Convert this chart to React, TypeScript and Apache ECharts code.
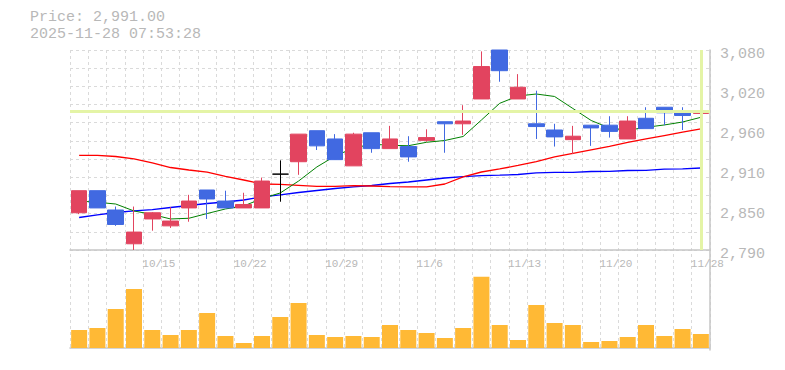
import React, { useEffect, useRef } from "react";
import * as echarts from "echarts";

const dates = [
  "10/8", "10/9", "10/10", "10/14", "10/15", "10/16", "10/17", "10/20", "10/21", "10/22",
  "10/23", "10/24", "10/27", "10/28", "10/29", "10/30", "10/31", "11/4", "11/5", "11/6",
  "11/7", "11/10", "11/11", "11/12", "11/13", "11/14", "11/17", "11/18", "11/19", "11/20",
  "11/21", "11/25", "11/26", "11/27", "11/28",
];
const opens = [
  2844, 2876, 2848, 2799, 2835, 2825, 2851, 2877, 2861, 2851,
  2851, 2900, 2918, 2963, 2951, 2912, 2960, 2937, 2940, 2949,
  2976, 2973, 3009, 3080, 3009, 2973, 2964, 2950, 2971, 2971,
  2951, 2981, 2997, 2990, 2988,
];
const closes = [
  2876, 2851, 2827, 2816, 2844, 2832, 2861, 2864, 2851, 2856,
  2890, 2900, 2958, 2941, 2921, 2958, 2937, 2951, 2925, 2953,
  2973, 2977, 3056, 3050, 3026, 2969, 2954, 2955, 2967, 2962,
  2977, 2966, 2989, 2985, 2991,
];
const lows = [
  2842, 2851, 2825, 2790, 2818, 2822, 2831, 2835, 2851, 2851,
  2851, 2860, 2899, 2935, 2921, 2912, 2931, 2937, 2918, 2947,
  2931, 2957, 3009, 3034, 3009, 2951, 2940, 2929, 2941, 2953,
  2951, 2966, 2971, 2964, 2980,
];
const highs = [
  2876, 2876, 2853, 2853, 2845, 2852, 2870, 2877, 2876, 2873,
  2895, 2920, 2958, 2963, 2958, 2960, 2960, 2970, 2955, 2965,
  2976, 3000, 3078, 3080, 3045, 3021, 2973, 2970, 2971, 2984,
  2984, 2997, 2997, 2997, 2992,
];
const ma5 = [
  2861, 2859.2, 2856.7, 2846.6, 2841.5, 2835, 2836, 2842.9, 2849.5, 2853.8,
  2864.7, 2872.7, 2890, 2910.4, 2926.3, 2937.9, 2943.4, 2941.8, 2941.2, 2946.2,
  2948.8, 2954.6, 2978.5, 3002.7, 3013.3, 3016.2, 3012.6, 2995.2, 2977.8, 2966.9,
  2963.6, 2967.9, 2971.3, 2975.6, 2982.4,
];
const ma25 = [
  2927.3, 2927.3, 2925.6, 2922.2, 2916.4, 2909.6, 2906, 2902.8, 2896.7, 2891.5,
  2885.7, 2885.2, 2883.8, 2882.4, 2882.4, 2883.2, 2882.8, 2882, 2881.4, 2881.4,
  2885.7, 2895.9, 2903.1, 2907.5, 2912.6, 2918.3, 2924.9, 2930.2, 2935.3, 2940.4,
  2945.9, 2951, 2956, 2960.8, 2965.5,
];
const ma75 = [
  2837.1, 2840.8, 2844.4, 2846.6, 2848.4, 2851.6, 2854.5, 2857.4, 2859.6, 2862.5,
  2866.9, 2869.8, 2873.4, 2876.3, 2879.2, 2881.4, 2883.5, 2886.4, 2888.6, 2891.5,
  2894.4, 2896.3, 2897.7, 2898.5, 2899.5, 2901.7, 2902.7, 2902.7, 2903.8, 2904.1,
  2905.3, 2905.6, 2907.2, 2907.5, 2908.9,
];
const volumes = [
  180, 200, 390, 590, 180, 130, 180, 350, 120, 50,
  120, 310, 450, 130, 110, 120, 110, 230, 180, 150,
  100, 200, 713, 230, 80, 430, 250, 230, 60, 70,
  110, 230, 120, 190, 140,
];
const yTickLabels = ["2,790", "2,850", "2,910", "2,960", "3,020", "3,080"];
const xLabelIdx = [4, 9, 14, 19, 24, 29, 34];
const priceText = "Price: 2,991.00";
const timeText = "2025-11-28 07:53:28";
const lastPrice = 2991;
const dojiIndex = 11;

export default function App() {
  const ref = useRef<HTMLDivElement>(null);
  useEffect(() => {
    const chart = echarts.init(ref.current!, null, { renderer: "svg" });
    const font = "'Liberation Mono', 'DejaVu Sans Mono', monospace";
    const gridColor = "#dadada";
    const axisGray = "#c6c6c6";
    const textGray = "#b8b8b8";
    const up = "#e2445f";
    const down = "#4169e1";
    const candleData = dates.map((_, i) => {
      const v = [opens[i], closes[i], lows[i], highs[i]];
      if (i === dojiIndex) {
        return {
          value: v,
          itemStyle: { color: "#000", color0: "#000", borderColor: "#000", borderColor0: "#000" },
        };
      }
      return v;
    });
    chart.setOption({
      animation: false,
      backgroundColor: "#ffffff",
      graphic: [
        { type: "text", left: 30, top: 10, style: { text: priceText, font: `15px ${font}`, fill: textGray } },
        { type: "text", left: 30, top: 27, style: { text: timeText, font: `15px ${font}`, fill: textGray } },
      ],
      grid: [
        { left: 70, top: 50, width: 640, height: 200 },
        { left: 70, top: 270, width: 640, height: 78 },
        { left: 70, top: 50, width: 640, height: 300 },
      ],
      xAxis: [
        {
          type: "category", gridIndex: 0, data: dates, boundaryGap: true,
          axisLine: { show: true, lineStyle: { color: axisGray, width: 1.5 } },
          axisTick: { show: false }, splitLine: { show: false },
          axisLabel: {
            interval: (i: number) => xLabelIdx.includes(i),
            align: "left", padding: [0, 0, 0, -10], margin: 8,
            color: textGray, fontFamily: font, fontSize: 11,
          },
        },
        {
          type: "category", gridIndex: 1, data: dates, boundaryGap: true, offset: 1.5,
          axisLine: { show: true, lineStyle: { color: axisGray, width: 1.5 } },
          axisTick: { show: false }, axisLabel: { show: false }, splitLine: { show: false },
        },
        {
          type: "category", gridIndex: 2, data: dates, boundaryGap: true,
          axisLine: { show: false }, axisTick: { show: false }, axisLabel: { show: false },
          splitLine: { show: true, interval: 0, lineStyle: { color: gridColor, width: 1, type: [3, 3] } },
        },
      ],
      yAxis: [
        {
          type: "value", gridIndex: 0, position: "right", min: 2790, max: 3080, interval: 58,
          axisLine: { show: false }, axisTick: { show: false }, splitLine: { show: false },
          axisLabel: {
            formatter: (_v: number, idx: number) => yTickLabels[idx],
            margin: 10, color: textGray, fontFamily: font, fontSize: 15,
            verticalAlign: "top", lineHeight: 8,
          },
        },
        {
          type: "value", gridIndex: 0, min: 0, max: 11, interval: 1,
          axisLine: { show: false }, axisTick: { show: false }, axisLabel: { show: false },
          splitLine: { show: true, lineStyle: { color: gridColor, width: 1, type: [3, 3] } },
        },
        { type: "value", gridIndex: 1, min: 0, max: 780, show: false },
        {
          type: "value", gridIndex: 2, position: "right", min: 0, max: 1,
          axisLine: { show: true, lineStyle: { color: axisGray, width: 1.5 } },
          axisTick: { show: false }, axisLabel: { show: false }, splitLine: { show: false },
        },
      ],
      series: [
        {
          type: "line", xAxisIndex: 0, yAxisIndex: 0, data: [], z: 1, silent: true,
          markLine: {
            silent: true, symbol: ["none", "none"], label: { show: false },
            lineStyle: { color: "#e4f4a6", width: 3, type: "solid" },
            emphasis: { disabled: true },
            data: [{ yAxis: lastPrice }, { xAxis: dates[dates.length - 1] }],
          },
        },
        {
          name: "MA75", type: "line", xAxisIndex: 0, yAxisIndex: 0, data: ma75, z: 2,
          symbol: "none", lineStyle: { color: "#0000ff", width: 1.3 }, silent: true,
        },
        {
          name: "MA25", type: "line", xAxisIndex: 0, yAxisIndex: 0, data: ma25, z: 2,
          symbol: "none", lineStyle: { color: "#ff0000", width: 1.3 }, silent: true,
        },
        {
          name: "MA5", type: "line", xAxisIndex: 0, yAxisIndex: 0, data: ma5, z: 2,
          symbol: "none", lineStyle: { color: "#008000", width: 1 }, silent: true,
        },
        {
          name: "Price", type: "candlestick", xAxisIndex: 0, yAxisIndex: 0, data: candleData, z: 3,
          barWidth: 16, silent: true,
          itemStyle: { color: up, color0: down, borderColor: up, borderColor0: down, borderWidth: 1 },
        },
        {
          name: "Volume", type: "bar", xAxisIndex: 1, yAxisIndex: 2, data: volumes,
          barWidth: 16, silent: true, itemStyle: { color: "#ffb935" },
        },
      ],
    });
    return () => chart.dispose();
  }, []);
  return <div ref={ref} style={{ position: "absolute", left: 0, top: 0, width: 785, height: 370 }} />;
}
